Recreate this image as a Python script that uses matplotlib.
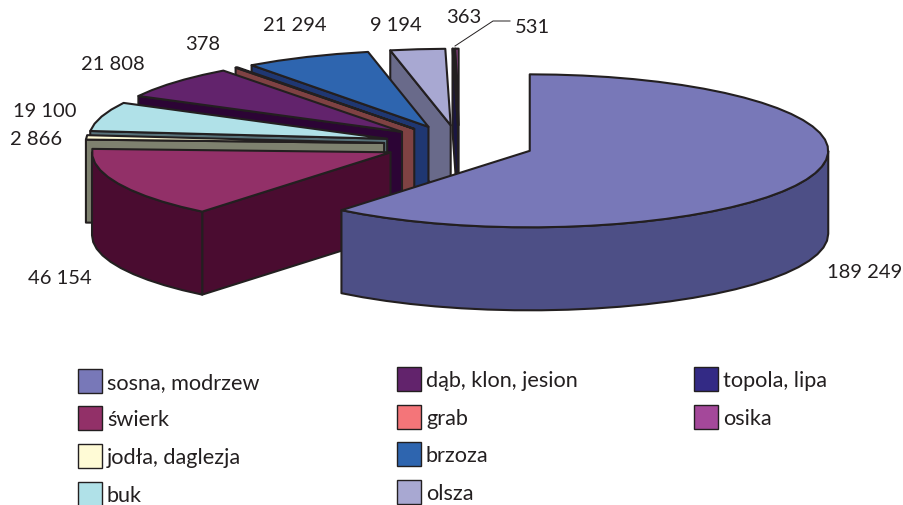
"""Exploded 3D pie of tree species area, drawn as extruded elliptical wedges."""

import matplotlib

matplotlib.use("Agg")
import matplotlib.pyplot as plt
import numpy as np
from matplotlib.patches import Polygon, Rectangle

species = [
    "sosna, modrzew", "świerk", "jodła, daglezja", "buk", "dąb, klon, jesion",
    "grab", "brzoza", "olsza", "topola, lipa", "osika",
]
areas = [189249, 46154, 2866, 19100, 21808, 378, 21294, 9194, 363, 531]
value_labels = [
    "189 249", "46 154", "2 866", "19 100", "21 808",
    "378", "21 294", "9 194", "363", "531",
]
top_colors = [
    "#7878B8", "#923068", "#FFFBD6", "#B0E1E8", "#62236C",
    "#F47579", "#2E65AF", "#A8A8D2", "#332A85", "#A4489A",
]
side_colors = [
    "#4D4F86", "#4A0C30", "#7E816F", "#58727A", "#2C0435",
    "#7F4243", "#1F3772", "#696A8A", "#1A1642", "#52244D",
]

# pie geometry, in pixels of the 904x506 canvas
CENTER = (459.0, 145.4)
RX, RY = 298.5, 76.5
DEPTH = 83.0
EXPLODE = 0.2515
EDGE = "#231F20"
LW = 1.5
ARC_STEP = np.radians(5)  # coarse on purpose, the source outline is rough

label_pos = [
    (865, 272), (60, 279), (36, 139), (45, 111), (113, 64),
    (203, 44), (295, 25), (396, 25), (464, 17), (532, 27),
]
legend_pos = [
    (78, 382), (78, 419), (78, 457), (78, 495), (397, 380),
    (397, 418), (397, 455), (397, 493), (694, 380), (694, 418),
]


def rim(theta, apex):
    return np.column_stack(
        [apex[0] + RX * np.sin(theta), apex[1] - RY * np.cos(theta)]
    )


def arc_angles(lo, hi):
    return np.linspace(lo, hi, max(2, int((hi - lo) / ARC_STEP) + 1))


def draw_slice(ax, start, end, top, side):
    mid = (start + end) / 2
    apex = (
        CENTER[0] + EXPLODE * RX * np.sin(mid),
        CENTER[1] - EXPLODE * RY * np.cos(mid),
    )
    down = np.array([0, DEPTH])
    style = {"edgecolor": EDGE, "linewidth": LW, "joinstyle": "round"}

    # cut faces: only those turned towards the viewer
    for theta, visible in ((start, np.sin(start) < -1e-6), (end, np.sin(end) > 1e-6)):
        if visible:
            p = rim(np.array([theta]), apex)[0]
            a = np.array(apex)
            ax.add_patch(Polygon([a, p, p + down, a + down], facecolor=side, **style))

    # outer wall, front half of the ellipse only
    lo, hi = max(start, np.pi / 2), min(end, 3 * np.pi / 2)
    if hi > lo:
        arc = rim(arc_angles(lo, hi), apex)
        ax.add_patch(Polygon(np.vstack([arc, (arc + down)[::-1]]), facecolor=side, **style))

    arc = rim(arc_angles(start, end), apex)
    ax.add_patch(Polygon(np.vstack([[apex], arc]), facecolor=top, **style))


def main():
    plt.rcParams["font.family"] = ["Lato", "DejaVu Sans"]
    fig = plt.figure(figsize=(9.04, 5.06), dpi=100)
    ax = fig.add_axes([0, 0, 1, 1])
    ax.set_xlim(0, 904)
    ax.set_ylim(506, 0)
    ax.axis("off")

    angles = np.concatenate([[0], np.cumsum(areas)]) / np.sum(areas) * 2 * np.pi
    # back slices first, the big front slice last
    for i in list(range(1, len(areas)))[::-1] + [0]:
        draw_slice(ax, angles[i], angles[i + 1], top_colors[i], side_colors[i])

    for text, (x, y) in zip(value_labels, label_pos):
        ax.text(x, y, text, fontsize=14.5, color=EDGE, ha="center", va="center")
    ax.plot([455, 493, 510], [47, 22, 22], color=EDGE, linewidth=0.7)

    for name, color, (x, y) in zip(species, top_colors, legend_pos):
        ax.add_patch(Rectangle((x, y - 12), 24, 24, facecolor=color, edgecolor=EDGE, linewidth=1.0))
        ax.text(x + 29, y + 1, name, fontsize=15.6, color=EDGE, ha="left", va="center")

    fig.savefig("out.png", dpi=100)
    plt.close(fig)


if __name__ == "__main__":
    main()
